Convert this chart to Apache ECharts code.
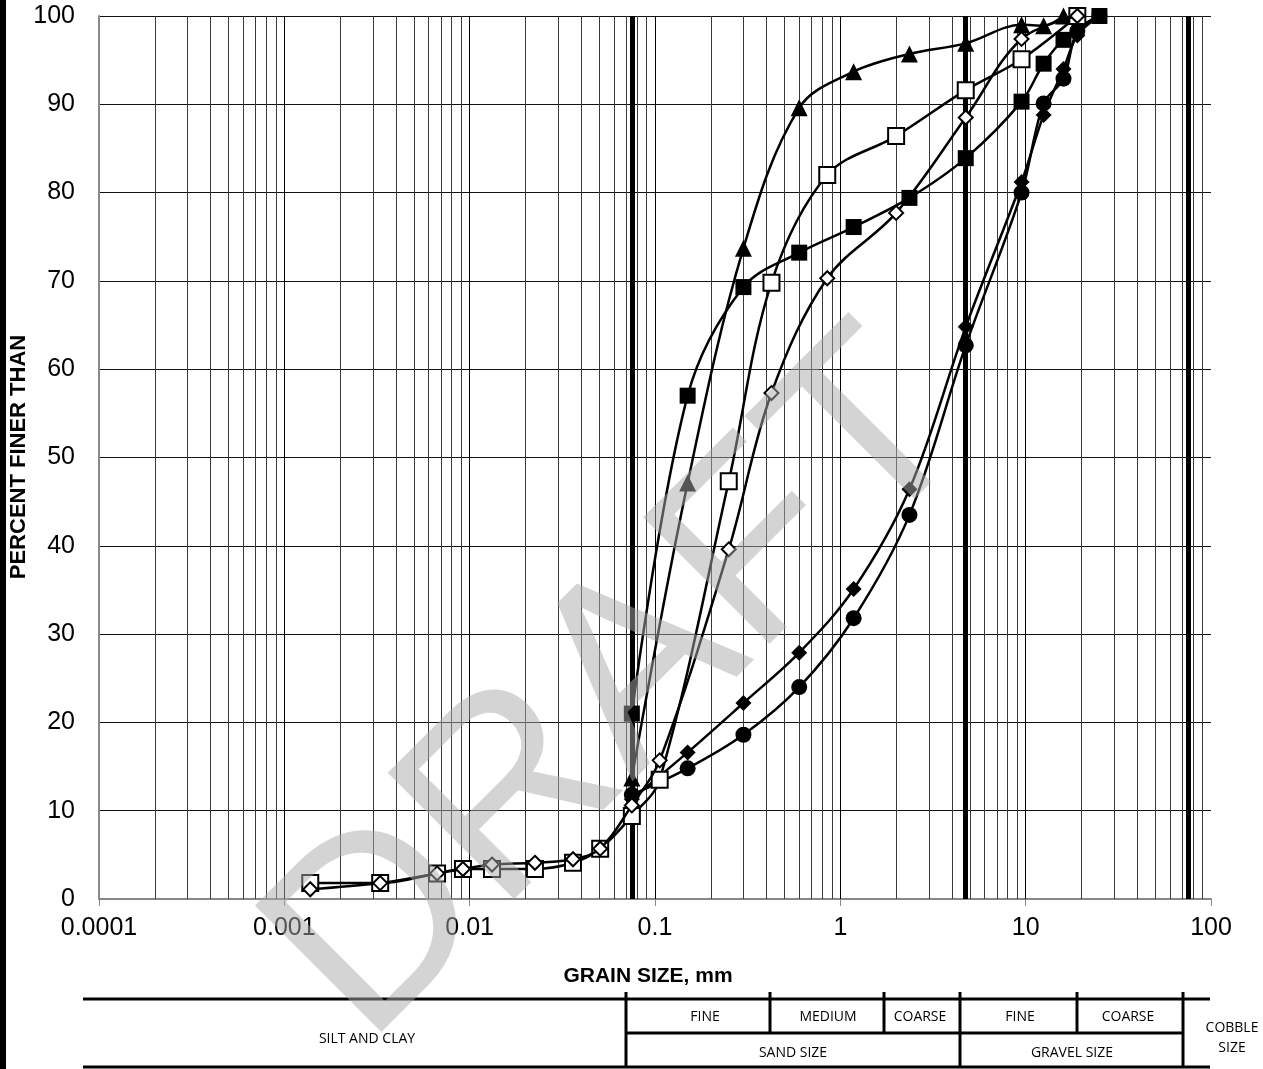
<!DOCTYPE html>
<html lang="en">
  <head>
    <meta charset="UTF-8" />
    <script src="https://cdn.jsdelivr.net/npm/echarts@6/dist/echarts.min.js"></script>
    <style>
      html, body { margin: 0; padding: 0; background: #fff; }
      #main { width: 1263px; height: 1069px; }
    </style>
    <title>Grain size distribution</title>
  </head>
  <body>
    <div id="main"></div>
    <script>
      // sieve analysis only
      const coarseSizes = [0.075, 0.15, 0.3, 0.6, 1.18, 2.36, 4.75, 9.5, 12.5, 16, 19, 25];
      const triangleVals = [13.7, 47.1, 73.7, 89.6, 93.7, 95.7, 96.9, 99.0, 98.9, 100];
      const squareSizes = [0.075, 0.15, 0.3, 0.6, 1.18, 2.36, 4.75, 9.5, 12.5, 16, 25];
      const squareVals = [21.0, 57.0, 69.3, 73.2, 76.1, 79.4, 83.9, 90.3, 94.6, 97.3, 100];
      const diamondVals = [11.3, 16.6, 22.2, 27.9, 35.1, 46.4, 64.8, 81.2, 88.8, 94.0, 97.8, 100];
      const circleVals = [11.8, 14.8, 18.6, 24.0, 31.8, 43.5, 62.7, 80.0, 90.1, 92.9, 98.3, 100];

      // hydrometer + sieve
      const fineSizes = [0.00138, 0.00329, 0.00667, 0.0092, 0.0132, 0.0225, 0.0361, 0.0506,
        0.075, 0.106, 0.25, 0.425, 0.85, 2.0, 4.75, 9.5, 19];
      const openSquareVals = [1.8, 1.8, 2.9, 3.4, 3.4, 3.4, 4.1, 5.7, 9.4, 13.5, 47.3, 69.8, 82.0, 86.4, 91.6, 95.1, 100];
      const openDiamondVals = [1.1, 1.8, 2.9, 3.4, 3.9, 4.1, 4.5, 5.7, 10.6, 15.7, 39.6, 57.3, 70.3, 77.7, 88.5, 97.4, 100];

      const boundarySizes = [0.075, 4.75, 75];
      const decades = [0.0001, 0.001, 0.01, 0.1, 1, 10];

      const pairs = (xs, ys) => ys.map((y, i) => [xs[i], y]);
      const vline = (x) => ({ coords: [[x, 0], [x, 100]] });

      const minorSizes = [];
      decades.forEach((d) => {
        for (let m = 2; m <= 9; m++) minorSizes.push(+(d * m).toPrecision(3));
      });
      const majorSizes = decades.slice(1);

      const chart = echarts.init(document.getElementById("main"));

      function curve(name, data, symbol, size, open, z) {
        return {
          name: name,
          type: "line",
          data: data,
          smooth: 0.35,
          symbol: symbol,
          symbolSize: size,
          clip: false,
          z: z,
          lineStyle: { color: "#000", width: 2.5 },
          itemStyle: {
            color: open ? "#fff" : "#000",
            borderColor: "#000",
            borderWidth: open ? 2 : 0,
          },
          emphasis: { disabled: true },
        };
      }

      function rules(name, xs, color, width, z) {
        return {
          name: name,
          type: "lines",
          coordinateSystem: "cartesian2d",
          silent: true,
          z: z,
          lineStyle: { color: color, width: width, opacity: 1 },
          data: xs.map(vline),
        };
      }

      const font = "'Liberation Sans', Arial, sans-serif";

      chart.setOption({
        animation: false,
        grid: { left: 99, top: 16, width: 1112, height: 883, outerBoundsMode: "none" },
        xAxis: {
          type: "log",
          logBase: 10,
          min: 0.0001,
          max: 100,
          axisLine: { lineStyle: { color: "#888", width: 2 } },
          axisTick: { show: true, length: 7, lineStyle: { color: "#888" } },
          axisLabel: {
            fontFamily: font,
            fontSize: 25,
            color: "#000",
            margin: 17,
            formatter: (v) => String(parseFloat(Number(v).toPrecision(6))),
          },
          splitLine: { show: false },
        },
        yAxis: {
          type: "value",
          min: 0,
          max: 100,
          interval: 10,
          axisLine: { show: true, lineStyle: { color: "#888", width: 2 } },
          axisTick: { show: false },
          axisLabel: { fontFamily: font, fontSize: 25, color: "#000", margin: 24 },
          splitLine: { show: true, lineStyle: { color: "#111", width: 1 } },
        },
        series: [
          rules("minor", minorSizes, "#3a3a3a", 1, 1),
          rules("major", majorSizes, "#000", 1, 1),
          rules("boundaries", boundarySizes, "#000", 5, 2),
          curve("circles", pairs(coarseSizes, circleVals), "circle", 16, false, 3),
          curve("diamonds", pairs(coarseSizes, diamondVals), "diamond", 16, false, 3),
          curve("squares", pairs(squareSizes, squareVals), "rect", 16, false, 3),
          curve("triangles", pairs(coarseSizes, triangleVals), "triangle", 17, false, 3),
          curve("open squares", pairs(fineSizes, openSquareVals), "rect", 16, true, 4),
          curve("open diamonds", pairs(fineSizes, openDiamondVals), "diamond", 14, true, 5),
        ],
      });

      // soil classification table under the chart
      const cols = [626, 770, 884, 960, 1077, 1183];
      const tTop = 999, tMid = 1033, tBot = 1067;
      const line = (x1, y1, x2, y2, w) => ({
        type: "line",
        shape: { x1, y1, x2, y2 },
        style: { stroke: "#000", lineWidth: w || 3 },
        silent: true,
      });
      const label = (x, y, text) => ({
        type: "text",
        x, y,
        style: { text, fill: "#000", font: "14px 'Open Sans', sans-serif", align: "center", verticalAlign: "middle" },
        silent: true,
      });
      const title = (x, y, text, size, rot) => ({
        type: "text",
        x, y,
        rotation: rot || 0,
        style: { text, fill: "#000", font: "bold " + size + "px " + font, align: "center", verticalAlign: "middle" },
        silent: true,
      });

      chart.setOption({
        graphic: [
          { type: "rect", shape: { x: 0, y: 0, width: 6, height: 1069 }, style: { fill: "#000" }, silent: true },
          title(648, 976, "GRAIN SIZE, mm", 21),
          title(19, 457, "PERCENT FINER THAN", 22, Math.PI / 2),
          line(83, tTop, 1210, tTop),
          line(83, tBot, 1210, tBot),
          line(cols[0], tMid, cols[5], tMid),
          line(cols[0], tTop - 7, cols[0], tBot),
          line(cols[1], tTop - 7, cols[1], tMid),
          line(cols[2], tTop - 7, cols[2], tMid),
          line(cols[3], tTop - 7, cols[3], tBot),
          line(cols[4], tTop - 7, cols[4], tMid),
          line(cols[5], tTop - 7, cols[5], tBot),
          label(367, 1039, "SILT AND CLAY"),
          label(705, 1017, "FINE"),
          label(828, 1017, "MEDIUM"),
          label(920, 1017, "COARSE"),
          label(1020, 1017, "FINE"),
          label(1128, 1017, "COARSE"),
          label(793, 1053, "SAND SIZE"),
          label(1072, 1053, "GRAVEL SIZE"),
          label(1232, 1028, "COBBLE"),
          label(1232, 1048, "SIZE"),
          {
            type: "text",
            x: 622,
            y: 690,
            rotation: Math.PI / 4,
            z: 100,
            silent: true,
            style: {
              text: "DRAFT",
              fill: "rgba(170,170,170,0.5)",
              font: "260px 'Liberation Sans', Arial, sans-serif",
              align: "center",
              verticalAlign: "middle",
            },
          },
        ],
      });
    </script>
  </body>
</html>
